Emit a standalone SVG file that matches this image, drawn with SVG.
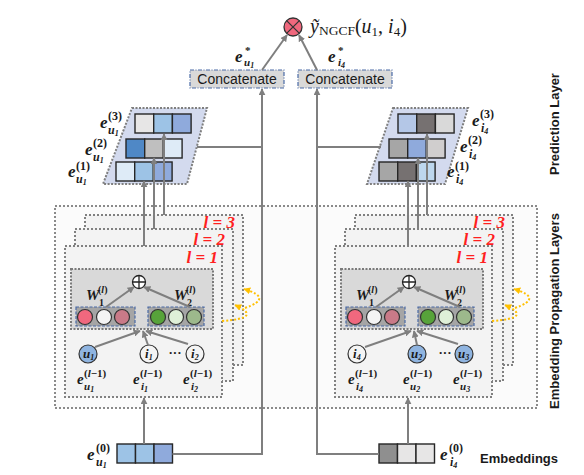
<svg xmlns="http://www.w3.org/2000/svg" width="584" height="475" viewBox="0 0 584 475">
<style>
.m{font-family:"Liberation Serif",serif;font-weight:bold;font-style:italic;fill:#1a1a1a}
.r{font-family:"Liberation Serif",serif;font-weight:bold;fill:#1a1a1a}
.s{font-family:"Liberation Sans",Arial,sans-serif;fill:#1a1a1a}
.red{font-family:"Liberation Serif",serif;font-weight:bold;font-style:italic;fill:#ff1f1f;font-size:17px}
.outer{fill:#fbfbfb;stroke:#8a8a8a;stroke-width:2;stroke-dasharray:2 2}
.lay{fill:#f3f3f3;stroke:#808080;stroke-width:2;stroke-dasharray:2 2}
.inner{fill:#d9d9d9;stroke:#7a7a7a;stroke-width:2;stroke-dasharray:2 1.5}
.sub{fill:#a5a5a5;stroke:#4a6aa6;stroke-width:1.2;stroke-dasharray:3 1.5}
.par{fill:#d3daee;stroke:#7f7f7f;stroke-width:2;stroke-dasharray:2 1.5}
.cell{stroke:#262626;stroke-width:1.4}
.cc{stroke:#333;stroke-width:1.2}
.con{fill:none;stroke:#7f7f7f;stroke-width:2}
.yel{fill:none;stroke:#ffc000;stroke-width:2;stroke-dasharray:2 2}
.cat{fill:#d9d9d9;stroke:#4a6aa6;stroke-width:1.2;stroke-dasharray:4 1.5 1 1.5}
</style>
<defs>
<marker id="ar" viewBox="0 0 10 10" refX="9" refY="5" markerWidth="7" markerHeight="7" markerUnits="userSpaceOnUse" orient="auto"><path d="M0,0 L10,5 L0,10 z" fill="#7f7f7f"/></marker>
<marker id="ay" viewBox="0 0 10 10" refX="9" refY="5" markerWidth="7" markerHeight="7" markerUnits="userSpaceOnUse" orient="auto"><path d="M0,0 L10,5 L0,10 z" fill="#ffc000"/></marker>
</defs>

<!-- Outer propagation box -->
<g id="prop-outer"><rect class="outer" x="55" y="206" width="482" height="202"/></g>

<!-- Left propagation stack -->
<g id="prop-u">
<rect class="lay" x="85" y="215" width="158" height="150" fill="#f6f6f6"/>
<rect class="lay" x="75" y="229" width="158" height="152"/>
<rect class="lay" x="65" y="246" width="157" height="151"/>
<text class="red" x="235" y="228" text-anchor="end">l = 3</text>
<text class="red" x="225" y="245" text-anchor="end">l = 2</text>
<text class="red" x="218" y="263" text-anchor="end">l = 1</text>
<rect class="inner" x="71" y="269" width="142" height="60"/>
<circle cx="139" cy="282" r="6.5" fill="#fff" stroke="#222" stroke-width="1.3"/>
<path d="M132.5,282 H145.5 M139,275.5 V288.5" stroke="#222" stroke-width="1.3"/>
<text class="m" x="86" y="300" font-size="15">W</text><text class="r" x="99" y="306" font-size="10">1</text><text class="r" x="98" y="293" font-size="10">(<tspan font-style="italic">l</tspan>)</text>
<text class="m" x="174" y="300" font-size="15">W</text><text class="r" x="187" y="306" font-size="10">2</text><text class="r" x="186" y="293" font-size="10">(<tspan font-style="italic">l</tspan>)</text>
<rect class="sub" x="76" y="307" width="59" height="19"/>
<circle class="cc" cx="85" cy="317" r="7.5" fill="#f0687e"/>
<circle class="cc" cx="104" cy="317" r="7.5" fill="#f4f4f4"/>
<circle class="cc" cx="122" cy="317" r="7.5" fill="#c97a88"/>
<rect class="sub" x="148" y="307" width="56" height="19"/>
<circle class="cc" cx="158" cy="317" r="7.5" fill="#57a33a"/>
<circle class="cc" cx="176" cy="317" r="7.5" fill="#dff0d8"/>
<circle class="cc" cx="194" cy="317" r="7.5" fill="#9db98c"/>
<circle class="cc" cx="88" cy="354" r="9" fill="#8fb4e0"/>
<text class="m" x="83" y="358" font-size="13">u<tspan font-size="8" dy="2">1</tspan></text>
<circle class="cc" cx="149" cy="354" r="9" fill="#f4f4f4"/>
<text class="m" x="145" y="358" font-size="13">i<tspan font-size="8" dy="2">1</tspan></text>
<text class="r" x="175" y="357" font-size="13" text-anchor="middle">···</text>
<circle class="cc" cx="195" cy="354" r="9" fill="#f4f4f4"/>
<text class="m" x="191" y="358" font-size="13">i<tspan font-size="8" dy="2">2</tspan></text>
<text class="m" x="77" y="384" font-size="15">e</text><text class="r" x="84" y="377" font-size="11">(<tspan font-style="italic">l</tspan>−1)</text><text class="m" x="84" y="390" font-size="11">u<tspan font-size="8" dy="2">1</tspan></text>
<text class="m" x="133" y="384" font-size="15">e</text><text class="r" x="140" y="377" font-size="11">(<tspan font-style="italic">l</tspan>−1)</text><text class="m" x="141" y="390" font-size="11">i<tspan font-size="8" dy="2">1</tspan></text>
<text class="m" x="183" y="384" font-size="15">e</text><text class="r" x="190" y="377" font-size="11">(<tspan font-style="italic">l</tspan>−1)</text><text class="m" x="191" y="390" font-size="11">i<tspan font-size="8" dy="2">2</tspan></text>
</g>

<!-- Right propagation stack -->
<g id="prop-i">
<rect class="lay" x="355" y="215" width="158" height="150" fill="#f6f6f6"/>
<rect class="lay" x="345" y="229" width="158" height="152"/>
<rect class="lay" x="335" y="246" width="157" height="151"/>
<text class="red" x="505" y="228" text-anchor="end">l = 3</text>
<text class="red" x="495" y="245" text-anchor="end">l = 2</text>
<text class="red" x="488" y="263" text-anchor="end">l = 1</text>
<rect class="inner" x="341" y="269" width="142" height="60"/>
<circle cx="409" cy="282" r="6.5" fill="#fff" stroke="#222" stroke-width="1.3"/>
<path d="M402.5,282 H415.5 M409,275.5 V288.5" stroke="#222" stroke-width="1.3"/>
<text class="m" x="356" y="300" font-size="15">W</text><text class="r" x="369" y="306" font-size="10">1</text><text class="r" x="368" y="293" font-size="10">(<tspan font-style="italic">l</tspan>)</text>
<text class="m" x="444" y="300" font-size="15">W</text><text class="r" x="457" y="306" font-size="10">2</text><text class="r" x="456" y="293" font-size="10">(<tspan font-style="italic">l</tspan>)</text>
<rect class="sub" x="346" y="307" width="59" height="19"/>
<circle class="cc" cx="355" cy="317" r="7.5" fill="#f0687e"/>
<circle class="cc" cx="374" cy="317" r="7.5" fill="#f4f4f4"/>
<circle class="cc" cx="392" cy="317" r="7.5" fill="#c97a88"/>
<rect class="sub" x="418" y="307" width="56" height="19"/>
<circle class="cc" cx="428" cy="317" r="7.5" fill="#57a33a"/>
<circle class="cc" cx="446" cy="317" r="7.5" fill="#dff0d8"/>
<circle class="cc" cx="464" cy="317" r="7.5" fill="#9db98c"/>
<circle class="cc" cx="357" cy="354" r="9" fill="#f4f4f4"/>
<text class="m" x="353" y="358" font-size="13">i<tspan font-size="8" dy="2">4</tspan></text>
<circle class="cc" cx="417" cy="354" r="9" fill="#8fb4e0"/>
<text class="m" x="411" y="358" font-size="13">u<tspan font-size="8" dy="2">2</tspan></text>
<text class="r" x="445" y="357" font-size="13" text-anchor="middle">···</text>
<circle class="cc" cx="464" cy="354" r="9" fill="#8fb4e0"/>
<text class="m" x="458" y="358" font-size="13">u<tspan font-size="8" dy="2">3</tspan></text>
<text class="m" x="348" y="384" font-size="15">e</text><text class="r" x="355" y="377" font-size="11">(<tspan font-style="italic">l</tspan>−1)</text><text class="m" x="356" y="390" font-size="11">i<tspan font-size="8" dy="2">4</tspan></text>
<text class="m" x="403" y="384" font-size="15">e</text><text class="r" x="410" y="377" font-size="11">(<tspan font-style="italic">l</tspan>−1)</text><text class="m" x="410" y="390" font-size="11">u<tspan font-size="8" dy="2">2</tspan></text>
<text class="m" x="453" y="384" font-size="15">e</text><text class="r" x="460" y="377" font-size="11">(<tspan font-style="italic">l</tspan>−1)</text><text class="m" x="460" y="390" font-size="11">u<tspan font-size="8" dy="2">3</tspan></text>
</g>

<!-- Left prediction stack -->
<g id="pred-u">
<polygon class="par" points="132,108 207,108 187,184 103,184"/>
<rect class="cell" x="135" y="114" width="18.7" height="19" fill="#e7e6e6"/>
<rect class="cell" x="153.7" y="114" width="18.7" height="19" fill="#9dc3e6"/>
<rect class="cell" x="172.4" y="114" width="18.7" height="19" fill="#8faadc"/>
<rect class="cell" x="126" y="139" width="18.7" height="19" fill="#4f88c6"/>
<rect class="cell" x="144.7" y="139" width="18.7" height="19" fill="#bfbfbf"/>
<rect class="cell" x="163.4" y="139" width="18.7" height="19" fill="#deebf7"/>
<rect class="cell" x="116" y="162" width="18.7" height="19" fill="#deebf7"/>
<rect class="cell" x="134.7" y="162" width="18.7" height="19" fill="#9dc3e6"/>
<rect class="cell" x="153.4" y="162" width="18.7" height="19" fill="#8faadc"/>
<text class="m" x="100" y="128" font-size="17">e</text><text class="r" x="108" y="120" font-size="12">(3)</text><text class="m" x="108" y="134" font-size="12">u<tspan font-size="8" dy="2">1</tspan></text>
<text class="m" x="85" y="155" font-size="17">e</text><text class="r" x="93" y="147" font-size="12">(2)</text><text class="m" x="93" y="161" font-size="12">u<tspan font-size="8" dy="2">1</tspan></text>
<text class="m" x="68" y="177" font-size="17">e</text><text class="r" x="76" y="170" font-size="12">(1)</text><text class="m" x="76" y="183" font-size="12">u<tspan font-size="8" dy="2">1</tspan></text>
</g>

<!-- Right prediction stack -->
<g id="pred-i">
<polygon class="par" points="393,108 468,108 445,184 367,184"/>
<rect class="cell" x="398" y="114" width="18.7" height="19" fill="#b4c7e7"/>
<rect class="cell" x="416.7" y="114" width="18.7" height="19" fill="#767171"/>
<rect class="cell" x="435.4" y="114" width="18.7" height="19" fill="#d9d9d9"/>
<rect class="cell" x="389" y="139" width="18.7" height="19" fill="#a6a6a6"/>
<rect class="cell" x="407.7" y="139" width="18.7" height="19" fill="#8faadc"/>
<rect class="cell" x="426.4" y="139" width="18.7" height="19" fill="#d0cece"/>
<rect class="cell" x="379" y="162" width="18.7" height="19" fill="#a6a6a6"/>
<rect class="cell" x="397.7" y="162" width="18.7" height="19" fill="#767171"/>
<rect class="cell" x="416.4" y="162" width="18.7" height="19" fill="#bdd7ee"/>
<text class="m" x="472" y="126" font-size="17">e</text><text class="r" x="480" y="118" font-size="12">(3)</text><text class="m" x="481" y="132" font-size="12">i<tspan font-size="8" dy="2">4</tspan></text>
<text class="m" x="460" y="152" font-size="17">e</text><text class="r" x="468" y="144" font-size="12">(2)</text><text class="m" x="469" y="158" font-size="12">i<tspan font-size="8" dy="2">4</tspan></text>
<text class="m" x="447" y="177" font-size="17">e</text><text class="r" x="455" y="170" font-size="12">(1)</text><text class="m" x="456" y="183" font-size="12">i<tspan font-size="8" dy="2">4</tspan></text>
</g>

<!-- Embeddings -->
<g id="emb-u">
<rect class="cell" x="117" y="444" width="18.5" height="19" fill="#9dc3e6"/>
<rect class="cell" x="135.5" y="444" width="18.5" height="19" fill="#9dc3e6"/>
<rect class="cell" x="154" y="444" width="18.5" height="19" fill="#8faadc"/>
<text class="m" x="87" y="460" font-size="17">e</text><text class="r" x="96" y="452" font-size="12">(0)</text><text class="m" x="96" y="466" font-size="12">u<tspan font-size="8" dy="2">1</tspan></text>
</g>
<g id="emb-i">
<rect class="cell" x="379" y="444" width="18.5" height="19" fill="#8f8f8f"/>
<rect class="cell" x="397.5" y="444" width="18.5" height="19" fill="#e7e6e6"/>
<rect class="cell" x="416" y="444" width="18.5" height="19" fill="#e7e6e6"/>
<text class="m" x="440" y="460" font-size="17">e</text><text class="r" x="449" y="452" font-size="12">(0)</text><text class="m" x="450" y="466" font-size="12">i<tspan font-size="8" dy="2">4</tspan></text>
</g>

<!-- Concatenate + prediction -->
<g id="concat-u">
<rect class="cat" x="190" y="70" width="94" height="18"/>
<text class="s" x="237" y="84" font-size="14" text-anchor="middle">Concatenate</text>
<text class="m" x="235" y="62" font-size="17">e</text><text class="r" x="245" y="54" font-size="11">*</text><text class="m" x="244" y="66" font-size="11">u<tspan font-size="8" dy="2">1</tspan></text>
</g>
<g id="concat-i">
<rect class="cat" x="298" y="70" width="94" height="18"/>
<text class="s" x="345" y="84" font-size="14" text-anchor="middle">Concatenate</text>
<text class="m" x="328" y="62" font-size="17">e</text><text class="r" x="338" y="54" font-size="11">*</text><text class="m" x="338" y="66" font-size="11">i<tspan font-size="8" dy="2">4</tspan></text>
</g>
<g id="predict">
<circle cx="293" cy="27" r="9" fill="#f0687e" stroke="#333" stroke-width="1.3"/>
<path d="M286.6,20.6 L299.4,33.4 M299.4,20.6 L286.6,33.4" stroke="#333" stroke-width="1.3"/>
<text x="310" y="33" font-family="Liberation Serif,serif" font-size="20" fill="#1a1a1a"><tspan font-style="italic">ỹ</tspan><tspan font-size="13.5" dy="2">NGCF</tspan><tspan dy="-2">(</tspan><tspan font-style="italic">u</tspan><tspan font-size="13" dy="3">1</tspan><tspan dy="-3">, </tspan><tspan font-style="italic">i</tspan><tspan font-size="13" dy="3">4</tspan><tspan dy="-3">)</tspan></text>
</g>

<!-- Side labels -->
<g id="labels">
<text class="s" x="559" y="124" font-size="13" font-weight="bold" text-anchor="middle" transform="rotate(-90 559 124)">Prediction Layer</text>
<text class="s" x="559" y="311" font-size="13" font-weight="bold" text-anchor="middle" transform="rotate(-90 559 311)">Embedding Propagation Layers</text>
<text class="s" x="480" y="463" font-size="13" font-weight="bold">Embeddings</text>
</g>

<!-- Connectors -->
<g id="connectors">
<path class="con" d="M172.5,454 H262 V89" marker-end="url(#ar)"/>
<path class="con" d="M379,454 H317 V89" marker-end="url(#ar)"/>
<path class="con" d="M197,147 H262"/>
<path class="con" d="M317,147 H381"/>
<path class="con" d="M262,70 L287,35" marker-end="url(#ar)"/>
<path class="con" d="M317,70 L299,35" marker-end="url(#ar)"/>
<path class="con" d="M144,444 V398" marker-end="url(#ar)"/>
<path class="con" d="M408,444 V398" marker-end="url(#ar)"/>
<path class="con" d="M144,246 V181" marker-end="url(#ar)"/>
<path class="con" d="M154,229 V158" marker-end="url(#ar)"/>
<path class="con" d="M164,215 V134" marker-end="url(#ar)"/>
<path class="con" d="M408,246 V181" marker-end="url(#ar)"/>
<path class="con" d="M418,229 V158" marker-end="url(#ar)"/>
<path class="con" d="M427,215 V134" marker-end="url(#ar)"/>
<path class="con" d="M106,307 L134,287" marker-end="url(#ar)"/>
<path class="con" d="M190,307 L144,287" marker-end="url(#ar)"/>
<path class="con" d="M376,307 L404,287" marker-end="url(#ar)"/>
<path class="con" d="M460,307 L414,287" marker-end="url(#ar)"/>
<path class="con" d="M95,347 L140,331" marker-end="url(#ar)"/>
<path class="con" d="M148,345 L143,331" marker-end="url(#ar)"/>
<path class="con" d="M188,344 L146,331" marker-end="url(#ar)"/>
<path class="con" d="M365,347 L411,331" marker-end="url(#ar)"/>
<path class="con" d="M417,345 L414,331" marker-end="url(#ar)"/>
<path class="con" d="M458,344 L417,331" marker-end="url(#ar)"/>
<path class="yel" d="M222,321 Q264,318 235,305" marker-end="url(#ay)"/>
<path class="yel" d="M245,308 Q274,298 244,289" marker-end="url(#ay)"/>
<path class="yel" d="M492,321 Q534,318 505,305" marker-end="url(#ay)"/>
<path class="yel" d="M515,308 Q544,298 514,289" marker-end="url(#ay)"/>
</g>
</svg>
